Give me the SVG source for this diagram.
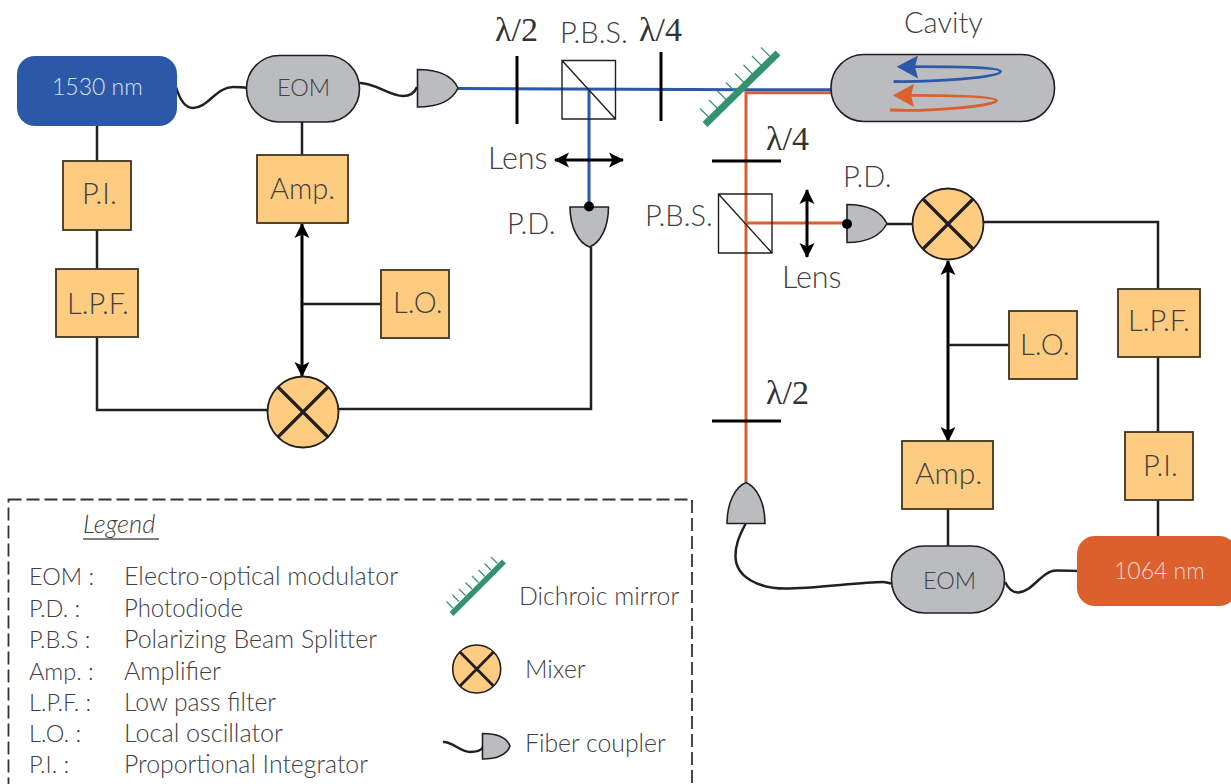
<svg xmlns="http://www.w3.org/2000/svg" width="1231" height="784" viewBox="0 0 1231 784">
<style>
text{font-family:"Lato","Open Sans","Liberation Sans",sans-serif;font-weight:300;fill:#404042;font-size:29px}
.lg{font-size:23.500px}
.ld{font-size:24.800px}
.sm{font-size:23.500px}
.math{font-family:"Liberation Serif","DejaVu Serif",serif;font-weight:400;fill:#333;font-size:34px}
.box{fill:#fdcc80;stroke:#40351f;stroke-width:1.8}
.gray{fill:#bbbcbf;stroke:#231f20;stroke-width:1.6}
.wire{fill:none;stroke:#231f20;stroke-width:2.5}
.plate{fill:none;stroke:#000;stroke-width:3}
.pbs{fill:none;stroke:#231f20;stroke-width:1.4}
.blue{fill:none;stroke:#2b59a8;stroke-width:3}
.orange{fill:none;stroke:#dc5f2e;stroke-width:3}
.x{fill:none;stroke:#231f20;stroke-width:3.2}
.mir{fill:none;stroke:#35926f;stroke-width:7}
.tick{fill:none;stroke:#35926f;stroke-width:1.2}
.darr{fill:none;stroke:#000;stroke-width:3;marker-start:url(#ah);marker-end:url(#ah)}
</style>
<defs>
<marker id="ah" markerUnits="userSpaceOnUse" markerWidth="16" markerHeight="18" refX="14" refY="9" orient="auto-start-reverse"><path d="M0 1.500L15 9L0 16.500L3.500 9Z" fill="#000"/></marker>
<g id="mixer"><circle r="35.500" fill="#fdcc80" stroke="#231f20" stroke-width="1.8"/><path class="x" d="M-25-25L25 25M-25 25L25-25"/></g>
</defs>

<g id="connectors">
<path class="wire" d="M97 126V161M97 230V269M97 337V410H268"/>
<path class="wire" d="M302 122V155"/>
<path class="darr" d="M302 224V376"/>
<path class="wire" d="M302 304H381"/>
<path class="wire" d="M339 409H591V247"/>
<path class="wire" d="M176 87C179 97 184 108 193 108C208 108 216 87 233 87C238 87 242 87 247 88"/>
<path class="wire" d="M360 83C375 83 390 96 403 96C411 96 415 92 417 87"/>
<path class="wire" d="M887 224H913"/>
<path class="wire" d="M983 222H1158V289M1158 357V432M1158 500V537"/>
<path class="darr" d="M948 261V441"/>
<path class="wire" d="M948 345H1009"/>
<path class="wire" d="M948 509V546"/>
<path class="wire" d="M745.500 524C738 538 735.500 546 735.500 556C735.500 578 760 588.500 785 588.500C815 588.500 860 582 883 582C886 582 888 583 891 583.500"/>
<path class="wire" d="M1005 582C1008 588 1012 592.500 1018 592.500C1032 592.500 1042 570.500 1056 570.500C1063 570.500 1070 570.500 1077 571"/>
<path class="blue" d="M458 88.500L746 89.800H831M589 89V207"/>
<path class="orange" d="M831 92.800H746V482M746 223H847"/>
<path class="darr" d="M555 160H623"/>
<path class="darr" d="M807 190V257"/>
</g>

<g id="laser-1530"><rect x="17" y="56" width="160" height="70" rx="18" fill="#2b59a8"/><text class="sm" x="52" y="95" style="fill:#d9e1ef;font-size:23px">1530 nm</text></g>
<g id="eom-left"><rect class="gray" x="246.500" y="55.500" width="113" height="66.500" rx="33"/><text class="sm" x="277" y="96">EOM</text></g>
<g id="coupler-top"><path class="gray" d="M417.500 69.500C440 69.500 453 77 458 88C453 99 440 107 417.500 107Z"/></g>
<g id="hwp-top"><path class="plate" d="M517 56V124"/><text class="math" x="495" y="41">λ/2</text></g>
<g id="pbs-top"><path class="pbs" d="M562 60.500H615.500V119H562ZM562 60.500L615.500 119"/><text x="560" y="43">P.B.S.</text></g>
<g id="qwp-top"><path class="plate" d="M661 52V121"/><text class="math" x="639" y="41">λ/4</text></g>
<g id="mirror"><path class="mir" d="M705 124.500L778 53"/><path class="tick" d="M700 108.500l9 9M709 100l9 9M717.500 91l9 9M726 82.500l9 9M735 73.500l9 9M743.500 65l9 9M752 56l9 9M761 47.500l9 9"/></g>
<g id="cavity"><rect class="gray" x="831" y="54.500" width="223.500" height="67" rx="33"/><text x="904" y="33">Cavity</text>
<path fill="none" stroke="#2b59a8" stroke-width="2.800" d="M893.500 81.500C930 82 1000 78 1000.500 71.500C1000 67 950 66.700 914 66.700"/><path fill="#2b59a8" d="M896.700 66.700L918 55.500L915 66.700L918 78.500Z"/>
<path fill="none" stroke="#dc5f2e" stroke-width="2.800" d="M890 110C925 112 996 106 996.500 100.500C996 96 945 95.300 910 95.300"/><path fill="#dc5f2e" d="M892.700 95.300L914 84L911 95.300L914 107Z"/></g>
<g id="lens-top"><text x="488" y="169" style="font-size:30.500px">Lens</text></g>
<g id="pd-left"><path class="gray" d="M570 207H608.500C608.500 228 600 243 589.500 247C579 243 570 228 570 207Z"/><circle cx="589" cy="206.500" r="5" fill="#000"/><text x="507" y="234">P.D.</text></g>
<g id="pi-left"><rect class="box" x="63" y="161" width="68" height="69"/><text x="82" y="204">P.I.</text></g>
<g id="lpf-left"><rect class="box" x="56" y="269" width="82" height="68"/><text x="67" y="314">L.P.F.</text></g>
<g id="amp-left"><rect class="box" x="257" y="155" width="91" height="68"/><text x="270" y="199">Amp.</text></g>
<g id="lo-left"><rect class="box" x="381" y="270" width="68" height="68"/><text x="393" y="313">L.O.</text></g>
<g id="mixer-left"><use href="#mixer" x="303" y="412"/></g>
<g id="qwp-right"><path class="plate" d="M712 161H781"/><text class="math" x="766" y="150">λ/4</text></g>
<g id="pbs-right"><path class="pbs" d="M718.500 194H772V253H718.500ZM718.500 194L772 253"/><text x="645" y="226">P.B.S.</text></g>
<g id="pd-right"><path class="gray" d="M847 204.500C868 204.500 881 212 887 223.500C881 235 868 242.500 847 242.500Z"/><circle cx="847" cy="224" r="5" fill="#000"/><text x="843" y="187">P.D.</text></g>
<g id="lens-right"><text x="782" y="288" style="font-size:30.500px">Lens</text></g>
<g id="mixer-right"><use href="#mixer" x="948" y="224"/></g>
<g id="lo-right"><rect class="box" x="1009" y="311" width="68" height="68"/><text x="1020" y="355">L.O.</text></g>
<g id="lpf-right"><rect class="box" x="1118" y="289" width="82" height="68"/><text x="1128" y="331">L.P.F.</text></g>
<g id="pi-right"><rect class="box" x="1125" y="432" width="68" height="68"/><text x="1143" y="476">P.I.</text></g>
<g id="amp-right"><rect class="box" x="902" y="441" width="91" height="68"/><text x="915" y="484" style="font-size:30px">Amp.</text></g>
<g id="hwp-right"><path class="plate" d="M712 421H781"/><text class="math" x="766" y="404">λ/2</text></g>
<g id="coupler-bottom"><path class="gray" d="M727 523.500C727 503 735 487 746 482.500C757 487 765 503 765 523.500Z"/></g>
<g id="eom-right"><rect class="gray" x="891.500" y="546" width="113" height="67" rx="33"/><text class="sm" x="923" y="589">EOM</text></g>
<g id="laser-1064"><rect x="1077" y="536" width="160" height="70" rx="18" fill="#dc5f2e"/><text class="sm" x="1114" y="579" style="fill:#f6dccf;font-size:23px">1064 nm</text></g>

<g id="legend">
<rect x="8.500" y="499.500" width="683.500" height="290" fill="none" stroke="#333" stroke-width="1.800" stroke-dasharray="13 5"/>
<text x="83" y="533" font-style="italic" style="font-size:25.500px">Legend</text>
<path d="M83 539H159" stroke="#555" stroke-width="1.500"/>
<text class="lg" x="29" y="585">EOM :</text><text class="ld" x="124" y="585" textLength="274" lengthAdjust="spacingAndGlyphs">Electro-optical modulator</text>
<text class="lg" x="29" y="617">P.D. :</text><text class="ld" x="124" y="617" textLength="119" lengthAdjust="spacingAndGlyphs">Photodiode</text>
<text class="lg" x="29" y="648">P.B.S :</text><text class="ld" x="124" y="648" textLength="253" lengthAdjust="spacingAndGlyphs">Polarizing Beam Splitter</text>
<text class="lg" x="29" y="680">Amp. :</text><text class="ld" x="124" y="680" textLength="97" lengthAdjust="spacingAndGlyphs">Amplifier</text>
<text class="lg" x="29" y="711">L.P.F. :</text><text class="ld" x="124" y="711" textLength="152" lengthAdjust="spacingAndGlyphs">Low pass filter</text>
<text class="lg" x="29" y="742">L.O. :</text><text class="ld" x="124" y="742" textLength="159" lengthAdjust="spacingAndGlyphs">Local oscillator</text>
<text class="lg" x="29" y="773">P.I. :</text><text class="ld" x="124" y="773" textLength="244" lengthAdjust="spacingAndGlyphs">Proportional Integrator</text>
<path d="M451.500 614L504 561.500" fill="none" stroke="#35926f" stroke-width="5.500"/>
<path class="tick" d="M446.500 601.500l6.500 6.500M452.500 595l6.500 6.500M459 589l6.500 6.500M465.500 582.500l6.500 6.500M472 576l6.500 6.500M478.500 570l6.500 6.500M484.500 563.500l6.500 6.500M491 557l6.500 6.500"/>
<text class="ld" x="519" y="605">Dichroic mirror</text>
<circle cx="476.700" cy="669" r="24" fill="#fdcc80" stroke="#231f20" stroke-width="1.600"/><path class="x" style="stroke-width:2.800" d="M460 652L493.500 686M460 686L493.500 652"/>
<text class="ld" x="525" y="678">Mixer</text>
<path class="wire" d="M443 742C452 741 460 752 470 752C476 752 481 751 483 747"/>
<path class="gray" d="M482.500 733.500C498 733.500 507 738 510 746C507 754 498 759 482.500 759Z"/>
<text class="ld" x="525" y="752">Fiber coupler</text>
</g>
</svg>
